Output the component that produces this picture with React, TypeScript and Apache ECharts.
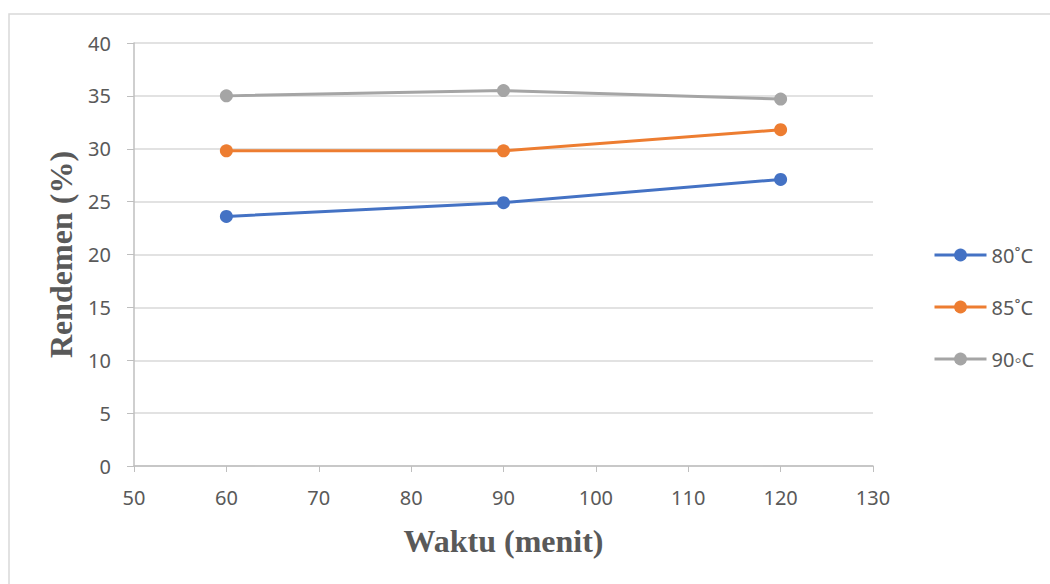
import React, { useEffect, useRef } from "react";
import * as echarts from "echarts";

// Waktu (menit) on x, Rendemen (%) on y
const seriesNames = ["80˚C", "85˚C", "90◦C"];
const waktu = [60, 90, 120];
const rendemen80 = [23.6, 24.9, 27.1];
const rendemen85 = [29.8, 29.8, 31.8];
const rendemen90 = [35.0, 35.5, 34.7];
const colors = ["#4472C4", "#ED7D31", "#A5A5A5"];

const labelFont = "'Noto Sans', 'Liberation Sans', sans-serif";
const titleFont = "'Liberation Serif', 'DejaVu Serif', serif";

export default function App() {
  const ref = useRef<HTMLDivElement>(null);

  useEffect(() => {
    if (!ref.current) return;
    const chart = echarts.init(ref.current, undefined, { renderer: "svg" });
    const allValues = [rendemen80, rendemen85, rendemen90];
    chart.setOption({
      animation: false,
      backgroundColor: "#ffffff",
      color: colors,
      grid: { left: 134, right: 177, top: 43, bottom: 118, containLabel: false },
      xAxis: {
        type: "value",
        min: 50,
        max: 130,
        interval: 10,
        name: "Waktu (menit)",
        nameLocation: "middle",
        nameGap: 59,
        nameTextStyle: { fontFamily: titleFont, fontWeight: "bold", fontSize: 32, color: "#595959" },
        axisLine: { show: true, lineStyle: { color: "#BFBFBF", width: 1.5 } },
        axisTick: { show: true, length: 6, lineStyle: { color: "#BFBFBF" } },
        axisLabel: { fontFamily: labelFont, fontSize: 20, color: "#595959", margin: 21 },
        splitLine: { show: false },
      },
      yAxis: {
        type: "value",
        min: 0,
        max: 40,
        interval: 5,
        name: "Rendemen (%)",
        nameLocation: "middle",
        nameGap: 55,
        nameRotate: 90,
        nameTextStyle: { fontFamily: titleFont, fontWeight: "bold", fontSize: 32, color: "#595959" },
        axisLine: { show: true, lineStyle: { color: "#BFBFBF", width: 1.5 } },
        axisTick: { show: true, length: 7, lineStyle: { color: "#BFBFBF" } },
        axisLabel: { fontFamily: labelFont, fontSize: 20, color: "#595959", margin: 23 },
        splitLine: { show: true, lineStyle: { color: "#D9D9D9", width: 1.5 } },
      },
      legend: {
        orient: "vertical",
        left: 933,
        top: 245,
        padding: 0,
        itemWidth: 52,
        itemHeight: 16,
        itemGap: 32,
        lineStyle: { width: 3 },
        textStyle: { fontFamily: labelFont, fontSize: 20, color: "#595959" },
        data: seriesNames,
      },
      graphic: [
        {
          type: "rect",
          shape: { x: 9, y: 14, width: 1060, height: 600 },
          style: { fill: "none", stroke: "#D9D9D9", lineWidth: 1.5 },
          silent: true,
        },
      ],
      series: seriesNames.map((name, i) => ({
        name,
        type: "line",
        data: waktu.map((w, j) => [w, allValues[i][j]]),
        symbol: "circle",
        symbolSize: 13,
        lineStyle: { width: 3, color: colors[i] },
        itemStyle: { color: colors[i] },
      })),
    });
    return () => chart.dispose();
  }, []);

  return (
    <div
      ref={ref}
      style={{ position: "fixed", left: 0, top: 0, width: 1050, height: 584 }}
    />
  );
}
